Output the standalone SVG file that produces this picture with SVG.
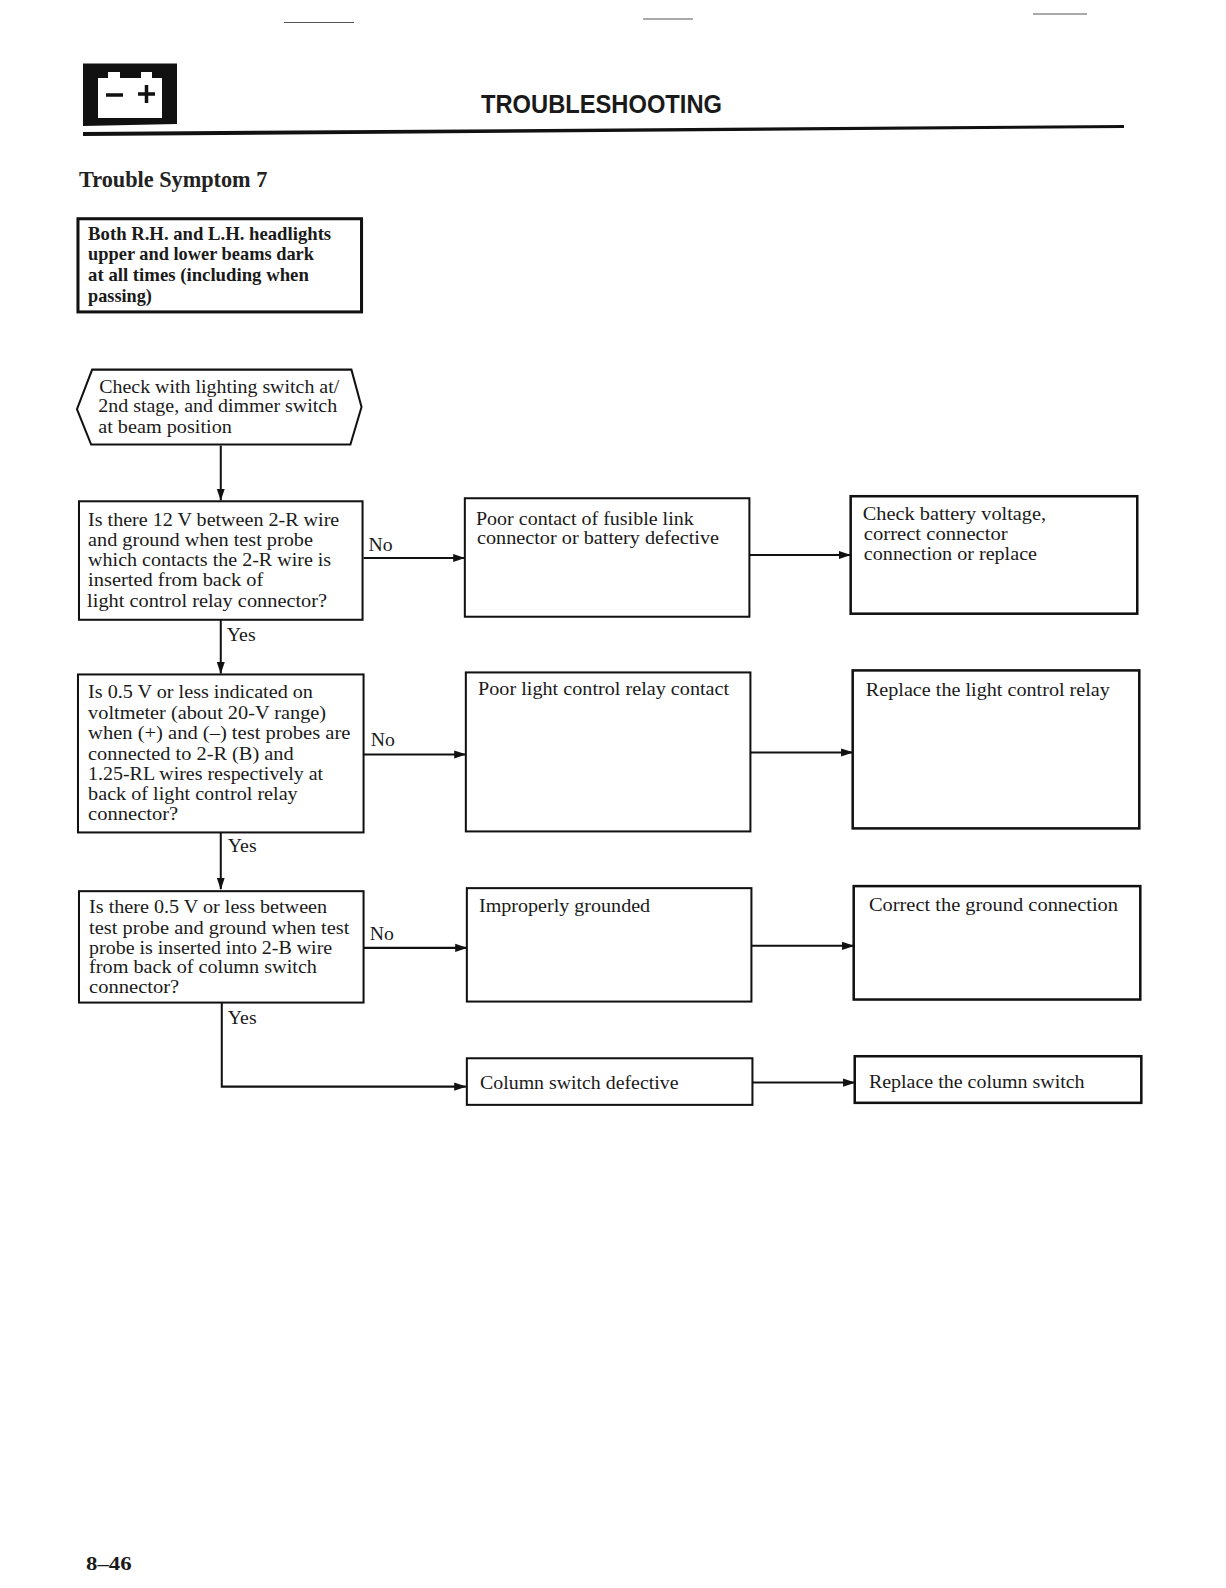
<svg xmlns="http://www.w3.org/2000/svg" width="1226" height="1588" viewBox="0 0 1226 1588">
<style>
text{font-family:"Liberation Serif","Times New Roman",serif;fill:#1a1a1a;font-size:19.500px}
.box{fill:#fff;stroke:#111;stroke-width:2}
.con{fill:none;stroke:#111;stroke-width:2}
</style>
<defs>
<marker id="ad" markerWidth="10" markerHeight="12" refX="5" refY="11.500" orient="0" markerUnits="userSpaceOnUse"><path d="M1 0L9 0L5 12Z" fill="#111"/></marker>
<marker id="ar" markerWidth="12" markerHeight="10" refX="11.500" refY="5" orient="0" markerUnits="userSpaceOnUse"><path d="M0 1L12 5L0 9Z" fill="#111"/></marker>
</defs>
<rect width="1226" height="1588" fill="#fff"/>
<g id="page-marks" stroke="#555" stroke-width="1"><path d="M284 22.500H354M643 19H693M1033 14H1087"/></g>
<g id="header">
<path d="M83 63.500H177V124L83 126Z" fill="#111"/>
<path d="M98 78H108V72H120V78H141V72H152V78H162V118H98Z" fill="#fff"/>
<path d="M106 95H123M138 94H155M146.500 85V103" stroke="#111" stroke-width="3.500" fill="none"/>
<path d="M83 132L1124 125V128L83 136Z" fill="#111"/>
<text x="481" y="113" style="font-family:'Liberation Sans',Arial,sans-serif;font-size:25px;font-weight:bold" textLength="241" lengthAdjust="spacingAndGlyphs">TROUBLESHOOTING</text>
</g>
<g id="chart" transform="scale(1.0127)">
<text x="78" y="185" style="font-size:22px;font-weight:bold;fill:#222" textLength="186" lengthAdjust="spacingAndGlyphs">Trouble Symptom 7</text>
<g id="connectors">
<path class="con" d="M218 440V494" marker-end="url(#ad)"/>
<path class="con" d="M218 612V665" marker-end="url(#ad)"/>
<path class="con" d="M218 822V878" marker-end="url(#ad)"/>
<path class="con" d="M219 990V1073H460" marker-end="url(#ar)"/>
<path class="con" d="M359 551H459" marker-end="url(#ar)"/>
<path class="con" d="M359 745H460" marker-end="url(#ar)"/>
<path class="con" d="M359 936H461" marker-end="url(#ar)"/>
<path class="con" d="M740 548H840" marker-end="url(#ar)"/>
<path class="con" d="M741 743H842" marker-end="url(#ar)"/>
<path class="con" d="M742 934H843" marker-end="url(#ar)"/>
<path class="con" d="M743 1069H844" marker-end="url(#ar)"/>
</g>
<g id="symptom"><rect class="box" style="stroke-width:3" x="77" y="216" width="280" height="92"/>
<g style="font-weight:bold"><text x="87" y="237" textLength="240" lengthAdjust="spacingAndGlyphs">Both R.H. and L.H. headlights</text><text x="87" y="257" textLength="223" lengthAdjust="spacingAndGlyphs">upper and lower beams dark</text><text x="87" y="277" textLength="218" lengthAdjust="spacingAndGlyphs">at all times (including when</text><text x="87" y="298" textLength="63" lengthAdjust="spacingAndGlyphs">passing)</text></g></g>
<g id="check"><path class="box" d="M91 365H347L357 402L346 439H90L76 404Z"/>
<text x="98" y="388" textLength="237" lengthAdjust="spacingAndGlyphs">Check with lighting switch at/</text><text x="97" y="407" textLength="236" lengthAdjust="spacingAndGlyphs">2nd stage, and dimmer switch</text><text x="97" y="428" textLength="132" lengthAdjust="spacingAndGlyphs">at beam position</text></g>
<g id="q1"><rect class="box" x="78" y="495" width="280" height="117"/>
<text x="87" y="519" textLength="248" lengthAdjust="spacingAndGlyphs">Is there 12 V between 2-R wire</text><text x="87" y="539" textLength="222" lengthAdjust="spacingAndGlyphs">and ground when test probe</text><text x="87" y="559" textLength="240" lengthAdjust="spacingAndGlyphs">which contacts the 2-R wire is</text><text x="87" y="579" textLength="173" lengthAdjust="spacingAndGlyphs">inserted from back of</text><text x="86" y="599" textLength="237" lengthAdjust="spacingAndGlyphs">light control relay connector?</text></g>
<g id="q2"><rect class="box" x="77" y="666" width="282" height="156"/>
<text x="87" y="689" textLength="222" lengthAdjust="spacingAndGlyphs">Is 0.5 V or less indicated on</text><text x="87" y="710" textLength="235" lengthAdjust="spacingAndGlyphs">voltmeter (about 20-V range)</text><text x="87" y="730" textLength="259" lengthAdjust="spacingAndGlyphs">when (+) and (–) test probes are</text><text x="87" y="750" textLength="203" lengthAdjust="spacingAndGlyphs">connected to 2-R (B) and</text><text x="87" y="770" textLength="232" lengthAdjust="spacingAndGlyphs">1.25-RL wires respectively at</text><text x="87" y="790" textLength="207" lengthAdjust="spacingAndGlyphs">back of light control relay</text><text x="87" y="810" textLength="89" lengthAdjust="spacingAndGlyphs">connector?</text></g>
<g id="q3"><rect class="box" x="78" y="880" width="281" height="110"/>
<text x="88" y="902" textLength="235" lengthAdjust="spacingAndGlyphs">Is there 0.5 V or less between</text><text x="88" y="922" textLength="257" lengthAdjust="spacingAndGlyphs">test probe and ground when test</text><text x="88" y="942" textLength="240" lengthAdjust="spacingAndGlyphs">probe is inserted into 2-B wire</text><text x="88" y="961" textLength="225" lengthAdjust="spacingAndGlyphs">from back of column switch</text><text x="88" y="981" textLength="89" lengthAdjust="spacingAndGlyphs">connector?</text></g>
<g id="labels"><text x="364" y="544">No</text><text x="366" y="737">No</text><text x="365" y="928">No</text><text x="224" y="633">Yes</text><text x="225" y="841">Yes</text><text x="225" y="1011">Yes</text></g>
<g id="c1"><rect class="box" x="459" y="492" width="281" height="117"/><text x="470" y="518" textLength="215" lengthAdjust="spacingAndGlyphs">Poor contact of fusible link</text><text x="471" y="537" textLength="239" lengthAdjust="spacingAndGlyphs">connector or battery defective</text></g>
<g id="c2"><rect class="box" x="460" y="664" width="281" height="157"/><text x="472" y="686" textLength="248" lengthAdjust="spacingAndGlyphs">Poor light control relay contact</text></g>
<g id="c3"><rect class="box" x="461" y="877" width="281" height="112"/><text x="473" y="901" textLength="169" lengthAdjust="spacingAndGlyphs">Improperly grounded</text></g>
<g id="c4"><rect class="box" x="461" y="1045" width="282" height="46"/><text x="474" y="1075" textLength="196" lengthAdjust="spacingAndGlyphs">Column switch defective</text></g>
<g id="r1"><rect class="box" style="stroke-width:2.500" x="840" y="490" width="283" height="116"/><text x="852" y="513" textLength="181" lengthAdjust="spacingAndGlyphs">Check battery voltage,</text><text x="853" y="533" textLength="142" lengthAdjust="spacingAndGlyphs">correct connector</text><text x="853" y="553" textLength="171" lengthAdjust="spacingAndGlyphs">connection or replace</text></g>
<g id="r2"><rect class="box" style="stroke-width:2.500" x="842" y="662" width="283" height="156"/><text x="855" y="687" textLength="241" lengthAdjust="spacingAndGlyphs">Replace the light control relay</text></g>
<g id="r3"><rect class="box" style="stroke-width:2.500" x="843" y="875" width="283" height="112"/><text x="858" y="900" textLength="246" lengthAdjust="spacingAndGlyphs">Correct the ground connection</text></g>
<g id="r4"><rect class="box" style="stroke-width:2.500" x="844" y="1043" width="283" height="46"/><text x="858" y="1074" textLength="213" lengthAdjust="spacingAndGlyphs">Replace the column switch</text></g>
<text x="85" y="1550" style="font-size:18px;font-weight:bold" textLength="45" lengthAdjust="spacingAndGlyphs">8–46</text>
</g>
</svg>
